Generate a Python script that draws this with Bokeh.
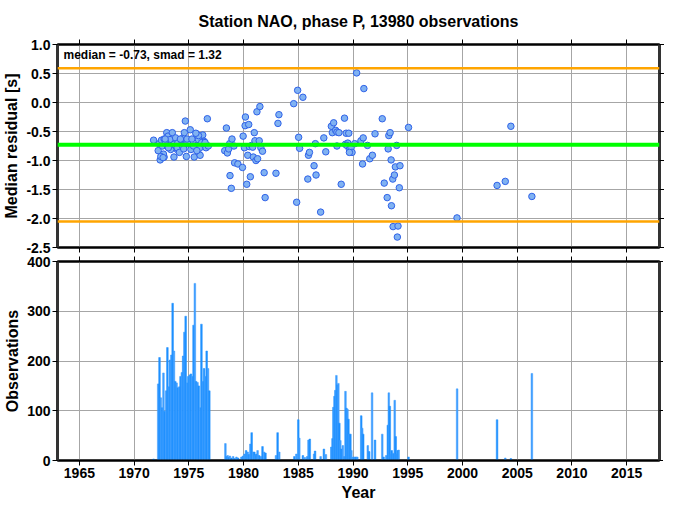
from bokeh.plotting import figure
from bokeh.layouts import column
from bokeh.models import (Range1d, FixedTicker, PrintfTickFormatter, CustomJSTickFormatter,
                          LinearAxis, Span, Label)
from bokeh.embed import file_html
from bokeh.resources import INLINE

# ---------------- data ----------------
station = "NAO"
phase = "P"
n_obs = 13980
median = -0.73
smad = 1.32

res_years = [
    1971.78, 1972.20, 1972.38, 1972.74, 1972.68, 1972.29, 1972.50, 1972.74, 1972.98, 1973.10,
    1973.28, 1973.49, 1973.64, 1973.64, 1973.79, 1973.99, 1974.17, 1974.30, 1974.47, 1974.59,
    1974.38, 1974.68, 1974.77, 1974.89, 1975.13, 1975.19, 1975.49, 1975.67, 1975.73, 1975.97,
    1976.03, 1976.27, 1976.39, 1976.57, 1976.78, 1976.69, 1975.88, 1973.94, 1973.34, 1972.59,
    1972.89, 1973.04, 1973.25, 1973.94, 1974.14, 1974.38, 1974.53, 1974.83, 1975.28, 1975.43,
    1975.73, 1975.88, 1976.18, 1976.48, 1972.83, 1973.13, 1972.44, 1972.65, 1974.23, 1975.64,
    1978.43, 1978.28, 1978.52, 1978.64, 1978.73, 1978.94, 1979.12, 1979.18, 1979.48, 1978.76,
    1978.88, 1979.90, 1980.62, 1980.29, 1979.96, 1980.08, 1980.14, 1980.17, 1980.38, 1980.47,
    1980.53, 1980.74, 1980.83, 1980.89, 1980.98, 1981.04, 1981.13, 1981.28, 1981.22, 1981.43,
    1981.49, 1981.58, 1981.73, 1981.88, 1981.97, 1982.96, 1983.14, 1983.23, 1984.58, 1984.94,
    1985.42, 1984.85, 1985.03, 1985.12, 1985.87, 1985.93, 1986.02, 1986.44, 1986.56, 1986.62,
    1987.04, 1987.33, 1987.51, 1988.02, 1988.11,
    1988.23, 1988.41, 1988.53, 1988.71, 1988.53, 1988.92, 1989.22, 1989.37, 1989.61, 1989.31,
    1989.52, 1989.43, 1989.67, 1989.82, 1989.91, 1989.67, 1990.15, 1990.33, 1990.99, 1990.72,
    1990.93, 1990.87, 1991.32, 1991.53, 1991.77, 1992.01, 1992.67, 1992.85, 1993.12, 1993.21,
    1993.27, 1993.39, 1993.48, 1993.51, 1993.63, 1993.78, 1993.87, 1994.23, 1994.29, 1993.99,
    1993.66, 1994.11, 1994.05, 1995.07,
    1999.50, 2003.16, 2003.91, 2004.42, 2006.34,
]
res_values = [
    -0.65, -0.83, -0.99, -0.94, -0.89, -0.71, -0.65, -0.63, -0.52, -0.58,
    -0.64, -0.52, -0.72, -0.94, -0.61, -0.70, -0.75, -0.64, -0.61, -0.52,
    -0.78, -0.32, -0.93, -0.71, -0.47, -0.81, -0.94, -0.54, -0.74, -0.79,
    -0.91, -0.56, -0.67, -0.78, -0.75, -0.28, -0.64, -0.81, -0.81, -0.75,
    -0.69, -0.75, -0.74, -0.78, -0.86, -0.74, -0.80, -0.63, -0.63, -0.75,
    -0.83, -0.57, -0.69, -0.69, -0.63, -0.78, -0.93, -0.95, -0.63, -0.53,
    -0.44, -0.83, -0.87, -0.80, -0.71, -0.63, -0.75, -1.04, -1.06, -1.26,
    -1.48, -1.12, -1.28, -1.41, -0.58, -0.78, -0.40, -0.25, -0.91, -0.38,
    -0.76, -0.74, -0.77, -0.94, -0.52, -0.66, -1.00, -0.97, -0.16, -0.66,
    -0.07, -0.78, -0.84, -1.21, -1.64, -1.22, -0.36, -0.21, -0.02, 0.21,
    0.09, -1.72, -0.60, -0.79, -1.32, -0.91, -0.86, -1.09, -0.71, -1.25,
    -1.89, -0.61, -0.85, -0.41, -0.52,
    -0.35, -0.48, -0.51, -0.52, -0.75, -1.41, -0.27, -0.53, -0.53, -0.72,
    -0.70, -0.74, -0.81, -0.78, -0.86, -0.86, -0.71, 0.51, 0.24, -0.66,
    -0.61, -1.06, -0.74, -0.97, -0.91, -0.54, -0.28, -1.39, -1.64, -0.80,
    -0.57, -0.52, -0.99, -1.78, -1.32, -1.25, -1.11, -1.47, -1.09, -0.74,
    -2.14, -2.13, -2.32, -0.43,
    -1.99, -1.43, -1.36, -0.41, -1.62,
]

hist_years = [
    1971.78,
    1972.20, 1972.32, 1972.44, 1972.56, 1972.68, 1972.80, 1972.92, 1973.04, 1973.16, 1973.28,
    1973.40, 1973.52, 1973.64, 1973.76, 1973.88, 1974.00, 1974.12, 1974.24, 1974.36, 1974.48,
    1974.59, 1974.71, 1974.83, 1974.95, 1975.07, 1975.19, 1975.31, 1975.43, 1975.55, 1975.67,
    1975.79, 1975.91, 1976.03, 1976.15, 1976.27, 1976.39, 1976.51, 1976.63, 1976.75, 1976.87,
    1978.34, 1978.45, 1978.55, 1978.65, 1978.75, 1978.90, 1979.05, 1979.20, 1979.35, 1979.50,
    1979.80, 1979.95, 1980.08, 1980.23, 1980.38, 1980.50, 1980.62, 1980.74, 1980.86, 1980.98,
    1981.07, 1981.16, 1981.28, 1981.43, 1981.58, 1981.73, 1981.88, 1982.00, 1982.96, 1983.11,
    1983.26, 1984.64, 1984.82, 1985.00, 1985.09, 1985.42, 1985.60, 1985.82, 1985.93, 1986.05,
    1986.44, 1986.53, 1987.04, 1987.34, 1987.52,
    1988.02, 1988.12, 1988.21, 1988.30, 1988.39, 1988.48, 1988.57, 1988.66, 1988.75, 1988.84,
    1988.93, 1989.07, 1989.22, 1989.31, 1989.40, 1989.49, 1989.58, 1989.67, 1989.76, 1989.85,
    1990.03, 1990.15, 1990.27, 1990.39, 1990.75, 1990.84, 1990.93, 1991.35, 1991.47, 1991.74,
    1992.01, 1992.67, 1992.79, 1993.03, 1993.18, 1993.27, 1993.36, 1993.45, 1993.54, 1993.63,
    1993.72, 1993.81, 1993.90, 1993.99, 1994.08, 1994.17, 1995.07,
    1999.51, 2003.16, 2003.91, 2004.42, 2006.34,
]
hist_counts = [
    3,
    154, 207, 126, 106, 176, 99, 140, 227, 148, 202,
    212, 316, 220, 159, 156, 146, 148, 169, 177, 210,
    258, 290, 156, 169, 172, 174, 169, 272, 356, 159,
    157, 150, 106, 274, 159, 185, 169, 220, 185, 140,
    34, 8, 10, 6, 9, 5, 8, 4, 7, 5,
    7, 9, 13, 20, 17, 12, 33, 56, 17, 17,
    10, 13, 20, 10, 8, 28, 17, 15, 10, 56,
    17, 8, 13, 82, 45, 10, 6, 8, 41, 43,
    13, 19, 8, 23, 12,
    27, 44, 107, 129, 141, 171, 152, 155, 75, 40,
    23, 30, 8, 139, 105, 103, 83, 53, 53, 20,
    7, 7, 7, 7, 90, 65, 53, 30, 18, 136,
    41, 53, 7, 10, 71, 136, 109, 13, 20, 15,
    13, 121, 48, 13, 20, 21, 7,
    144, 82, 5, 4, 175,
]

x_ticks = [1965, 1970, 1975, 1980, 1985, 1990, 1995, 2000, 2005, 2010, 2015]
res_ticks = [-2.5, -2.0, -1.5, -1.0, -0.5, 0.0, 0.5, 1.0]
obs_ticks = [0, 100, 200, 300, 400]

# ---------------- styling ----------------
FONT = "Liberation Sans"
GRID = "#a6a6a6"
X_RANGE = (1963, 2018)
BLANK = CustomJSTickFormatter(code="return ''")


def style_axis(ax, width=2, color="black"):
    ax.axis_line_width = width
    ax.axis_line_color = color
    ax.major_tick_out = 5
    ax.major_tick_in = 0
    ax.major_tick_line_color = "black"
    ax.major_tick_line_width = 1
    ax.minor_tick_line_color = None
    ax.major_label_text_font = FONT
    ax.major_label_text_font_style = "bold"
    ax.major_label_text_font_size = "14px"
    ax.major_label_text_color = "black"
    ax.major_label_standoff = 2
    ax.axis_label_text_font = FONT
    ax.axis_label_text_font_style = "bold"
    ax.axis_label_text_font_size = "16px"
    ax.axis_label_text_color = "black"
    ax.axis_label_standoff = 3


def blank_axis(ticks, width=2, color="black"):
    ax = LinearAxis(ticker=FixedTicker(ticks=ticks), formatter=BLANK)
    style_axis(ax, width, color)
    ax.major_label_standoff = 0
    return ax


def make_fig(y_rng, y_ticks, fh, title=None, show_x_labels=False, top=0, bottom=0):
    p = figure(frame_width=602, frame_height=fh,
               x_range=Range1d(*X_RANGE), y_range=Range1d(*y_rng),
               output_backend="svg", toolbar_location=None, title=title,
               x_axis_location=None, y_axis_location=None,
               min_border_left=54, min_border_right=0, min_border_top=top,
               min_border_bottom=bottom, background_fill_color="white",
               border_fill_color="white")
    p.outline_line_color = "black"
    p.outline_line_width = 2
    p.xgrid.ticker = FixedTicker(ticks=x_ticks)
    p.ygrid.ticker = FixedTicker(ticks=y_ticks)
    for g in (p.xgrid[0], p.ygrid[0]):
        g.grid_line_color = GRID
        g.grid_line_width = 1
    left = LinearAxis(ticker=FixedTicker(ticks=y_ticks))
    style_axis(left, 3, "#333333")
    p.add_layout(left, "left")
    p.add_layout(blank_axis(y_ticks, 3, "#333333"), "right")
    p.add_layout(blank_axis(x_ticks), "above")
    if show_x_labels:
        bottom_ax = LinearAxis(ticker=FixedTicker(ticks=x_ticks), axis_label="Year")
        style_axis(bottom_ax)
        p.add_layout(bottom_ax, "below")
    else:
        p.add_layout(blank_axis(x_ticks), "below")
    return p, left


# ---------------- top panel: residuals ----------------
p1, l1 = make_fig((-2.5, 1.0), res_ticks, 203,
                  title=f"Station {station}, phase {phase}, {n_obs} observations",
                  bottom=7)
p1.title.align = "center"
p1.title.text_font = FONT
p1.title.text_font_style = "bold"
p1.title.text_font_size = "16px"
p1.title.text_color = "black"
p1.title.standoff = 20
l1.axis_label = "Median residual [s]"
l1.formatter = PrintfTickFormatter(format="%.1f")

p1.add_layout(Span(location=median + smad, dimension="width", line_color="#FFA500", line_width=2.5))
p1.add_layout(Span(location=median - smad, dimension="width", line_color="#FFA500", line_width=2.5))
p1.add_layout(Span(location=median, dimension="width", line_color="#00FF00", line_width=4))

p1.scatter(res_years, res_values, size=6.5, fill_color="#80B2F2",
           line_color="#2F62E8", line_width=1)

p1.add_layout(Label(x=1963.55, y=0.94, text=f"median = {median:.2f}, smad = {smad:.2f}",
                    text_font=FONT, text_font_style="bold", text_font_size="12px",
                    text_baseline="top", text_color="black"))

# ---------------- bottom panel: observation counts ----------------
p2, l2 = make_fig((0, 400), obs_ticks, 199, show_x_labels=True, top=7)
l2.axis_label = "Observations"
l2.formatter = PrintfTickFormatter(format="%d")
bar_colors = ["#1E90FF" if i % 2 == 0 else "#3C9DFF" for i in range(len(hist_years))]
p2.vbar(x=hist_years, top=hist_counts, width=0.15, fill_color=bar_colors,
        line_color=bar_colors, line_width=0.5)

layout = column(p1, p2, spacing=0)
open("out.html", "w").write(file_html(layout, INLINE))
